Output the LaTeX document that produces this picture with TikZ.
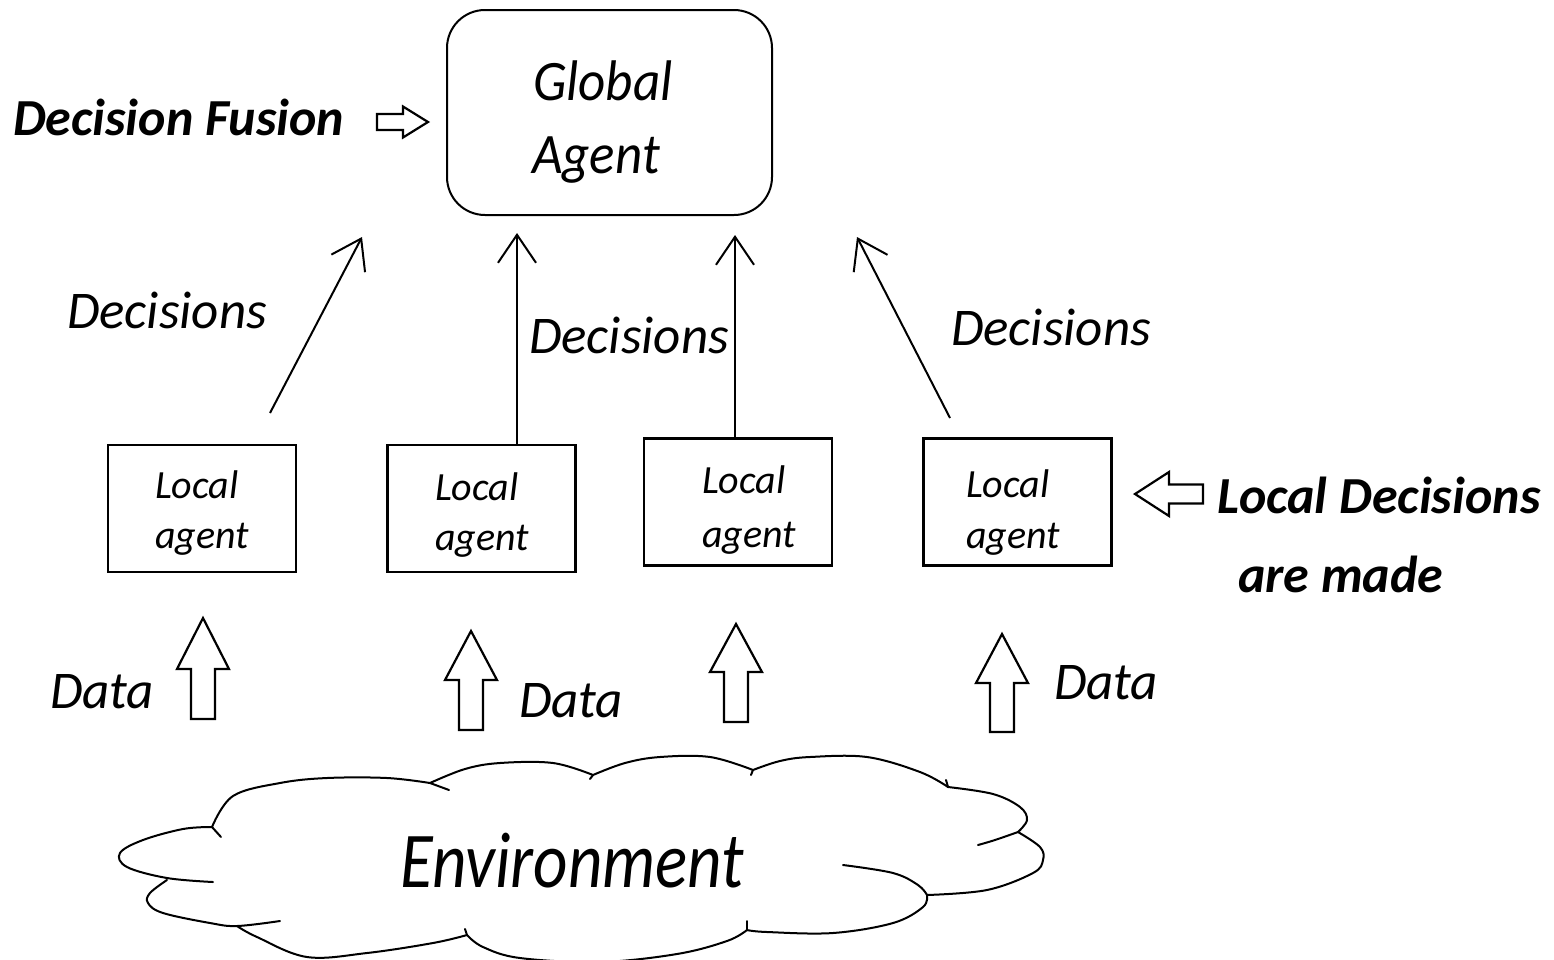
\documentclass[tikz,border=0pt]{standalone}
\usepackage{fontspec}
\usepackage{graphicx}
\setmainfont{Carlito}
\usetikzlibrary{arrows.meta}

\tikzset{
  every node/.style={inner sep=0pt, outer sep=0pt},
  globalbox/.style={draw, line width=2pt, rounded corners=38pt,
    minimum width=325pt, minimum height=205pt},
  agentbox/.style={draw, line width=2.5pt, minimum width=188pt, minimum height=127pt},
  boxtext/.style={anchor=base west, font=\fontsize{40}{48}\selectfont\itshape},
  bigtext/.style={anchor=base west, font=\fontsize{53}{64}\selectfont\itshape},
  boldtext/.style={anchor=base west, font=\fontsize{52}{62}\selectfont\bfseries\itshape},
  envtext/.style={anchor=base west, font=\fontsize{67}{80}\selectfont\itshape},
  decarrow/.style={line width=2pt,
    -{Straight Barb[length=28pt,width=38pt,line width=2pt]}},
  blockline/.style={draw, line width=2.2pt, fill=white, line join=miter},
  cloudline/.style={line width=2pt, line cap=round, line join=round},
  % hollow block arrow, tip at the origin, body along +y
  % #1 total length, #2 head length, #3 head half-width, #4 shaft half-width
  pics/blockarrow/.style n args={4}{code={
    \path[blockline] (0,0) -- (#3,#2) -- (#4,#2) -- (#4,#1) -- (-#4,#1)
      -- (-#4,#2) -- (-#3,#2) -- cycle;}},
}

\begin{document}
\begin{tikzpicture}[x=1pt, y=-1pt]
\useasboundingbox (0,0) rectangle (1554,959);

% ---- global agent ----
\node[globalbox] (global) at (609.5,112.5) {};
\node[bigtext] (globalA) at (533,100) {\scalebox{1}[1.08]{Global}};
\node[bigtext] (globalB) at (532,173) {\scalebox{1}[1.08]{Agent}};

\node[boldtext] (fusion) at (13,135) {Decision Fusion};
\pic[rotate=-90] (fusionarrow) at (428,122) {blockarrow={51}{25}{15.5}{8}};

% ---- local agents ----
\node[agentbox] (la1) at (202,508.5) {};
\node[agentbox] (la2) at (481.5,508.5) {};
\node[agentbox] (la3) at (738,502) {};
\node[agentbox] (la4) at (1017.5,502) {};

\node[boxtext] (la1a) at (155,498) {Local};
\node[boxtext] (la1b) at (155,548) {agent};
\node[boxtext] (la2a) at (435,500) {Local};
\node[boxtext] (la2b) at (435,550) {agent};
\node[boxtext] (la3a) at (702,493) {Local};
\node[boxtext] (la3b) at (702,547) {agent};
\node[boxtext] (la4a) at (966,497) {Local};
\node[boxtext] (la4b) at (966,548) {agent};

\node[boldtext] (localA) at (1217,513) {Local Decisions};
\node[boldtext] (localB) at (1238,592) {are made};
\pic[rotate=90] (localarrow) at (1135,494) {blockarrow={68}{34}{22}{9.5}};

% ---- decisions sent upwards ----
\coordinate (d1bot) at (270,413);
\coordinate (d1top) at (362,237);
\coordinate (d2top) at (517,233);
\coordinate (d3top) at (735,235);
\coordinate (d4bot) at (950,418);
\coordinate (d4top) at (857,237);

\draw[decarrow] (d1bot) -- (d1top);
\draw[decarrow] (la2.north -| d2top) -- (d2top);
\draw[decarrow] (la3.north -| d3top) -- (d3top);
\draw[decarrow] (d4bot) -- (d4top);

\node[bigtext] (dec1) at (67,328) {Decisions};
\node[bigtext] (dec2) at (529,353) {Decisions};
\node[bigtext] (dec3) at (951,345) {Decisions};

% ---- data flowing in from the environment ----
\pic (data1arrow) at (203,618) {blockarrow={101}{51}{26}{12}};
\pic (data2arrow) at (471,631) {blockarrow={99}{49}{26}{12}};
\pic (data3arrow) at (736,624) {blockarrow={98}{48}{26}{12}};
\pic (data4arrow) at (1002,634) {blockarrow={98}{49}{26}{12}};

\node[bigtext] (data1) at (50,708) {Data};
\node[bigtext] (data2) at (519,717) {Data};
\node[bigtext] (data3) at (1054,699) {Data};

% ---- environment cloud ----
\draw[cloudline] plot[smooth, tension=0.6] coordinates
  {(212,827) (233,796) (280,783) (327,778) (387,778) (430,783)};
\draw[cloudline] plot[smooth, tension=0.6] coordinates
  {(430,783) (465,769) (500,763) (553,763) (593,775)};
\draw[cloudline] plot[smooth, tension=0.6] coordinates
  {(593,775) (625,763) (660,757) (710,757) (753,770)};
\draw[cloudline] plot[smooth, tension=0.6] coordinates
  {(753,770) (780,761) (810,757) (867,757) (920,772) (948,787)};
\draw[cloudline] plot[smooth, tension=0.6] coordinates
  {(948,787) (993,794) (1020,807) (1027,820) (1018,832)};
\draw[cloudline] plot[smooth, tension=0.6] coordinates
  {(1018,832) (1040,847) (1043,860) (1033,873) (987,890) (927,895)};
\draw[cloudline] plot[smooth, tension=0.6] coordinates
  {(927,895) (923,907) (893,923) (833,933) (767,932) (747,930)};
\draw[cloudline] plot[smooth, tension=0.6] coordinates
  {(747,930) (727,941) (677,954) (600,962) (520,958) (483,947) (467,935)};
\draw[cloudline] plot[smooth, tension=0.6] coordinates
  {(467,935) (433,943) (367,953) (307,957) (257,937) (237,926)};
\draw[cloudline] plot[smooth, tension=0.6] coordinates
  {(167,880) (150,893) (148,903) (163,913) (210,923) (237,926) (280,921)};
\draw[cloudline] plot[smooth, tension=0.6] coordinates
  {(212,827) (183,829) (143,840) (120,853) (127,867) (167,878) (213,882)};
% inner strokes where the lobes meet
\draw[cloudline] (212,827) -- (221,837);
\draw[cloudline] (430,783) -- (449,790);
\draw[cloudline] (593,775) -- (590,779);
\draw[cloudline] (753,770) -- (751,775);
\draw[cloudline] (948,787) -- (946,780);
\draw[cloudline] plot[smooth, tension=0.6] coordinates {(1018,832) (995,840) (978,845)};
\draw[cloudline] plot[smooth, tension=0.6] coordinates
  {(927,895) (918,885) (893,873) (843,865)};
\draw[cloudline] (747,930) -- (747,921);
\draw[cloudline] (467,935) -- (465,929);

\node[envtext] (env) at (400,887) {\scalebox{1}[1.18]{Environment}};
\end{tikzpicture}
\end{document}
